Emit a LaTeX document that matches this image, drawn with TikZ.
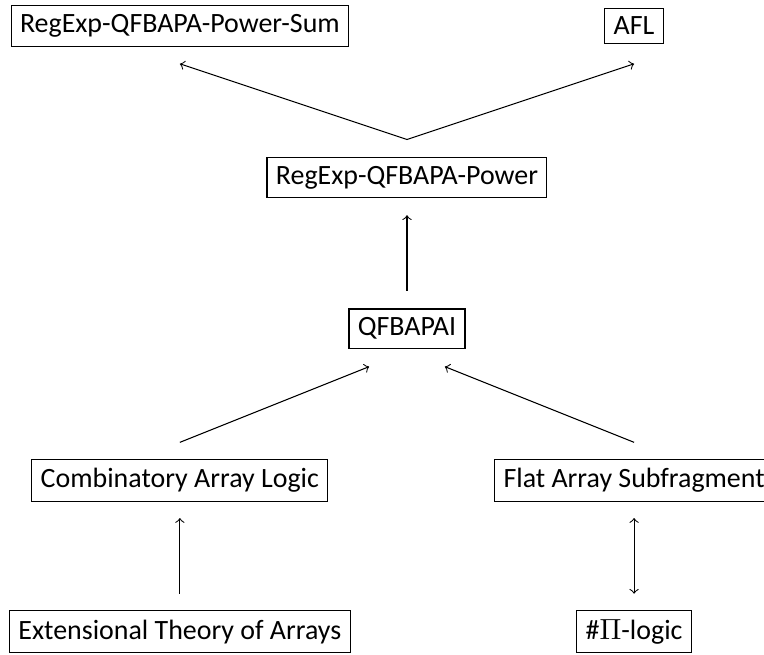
\documentclass[tikz,border=0pt]{standalone}
\usepackage{fontspec}
\setmainfont{Carlito}
\usepackage{tikz}

\begin{document}
\begin{tikzpicture}[logic/.style={draw,font=\fontsize{10.5}{12.6}\selectfont}]
  \useasboundingbox (-5.376,-8.309) rectangle (4.716,0.343);
  \node[logic] (sum) at (-3,0) {RegExp-QFBAPA-Power-Sum};
  \node[logic] (afl) at (3,0) {AFL};
  \node[logic] (power) at (0,-2) {RegExp-QFBAPA-Power};
  \node[logic] (qfbapai) at (0,-4) {QFBAPAI};
  \node[logic] (cal) at (-3,-6) {Combinatory Array Logic};
  \node[logic] (flat) at (3,-6) {Flat Array Subfragment};
  \node[logic] (ext) at (-3,-8) {Extensional Theory of Arrays};
  \node[logic] (pilogic) at (3,-8) {$\#\Pi$-logic};
  \path [->] ([yshift=0.5cm]power.center) edge ([yshift=-0.5cm]sum.center);
  \path [->] ([yshift=0.5cm]power.center) edge ([yshift=-0.5cm]afl.center);
  \path [->] ([yshift=0.5cm]qfbapai.center) edge ([yshift=-0.5cm]power.center);
  \path [->] ([yshift=0.5cm]cal.center) edge ([shift={(-0.5,-0.5)}]qfbapai.center);
  \path [->] ([yshift=0.5cm]flat.center) edge ([shift={(0.5,-0.5)}]qfbapai.center);
  \path [->] ([yshift=0.5cm]ext.center) edge ([yshift=-0.5cm]cal.center);
  \path [<->] ([yshift=-0.5cm]flat.center) edge ([yshift=0.5cm]pilogic.center);
\end{tikzpicture}
\end{document}
